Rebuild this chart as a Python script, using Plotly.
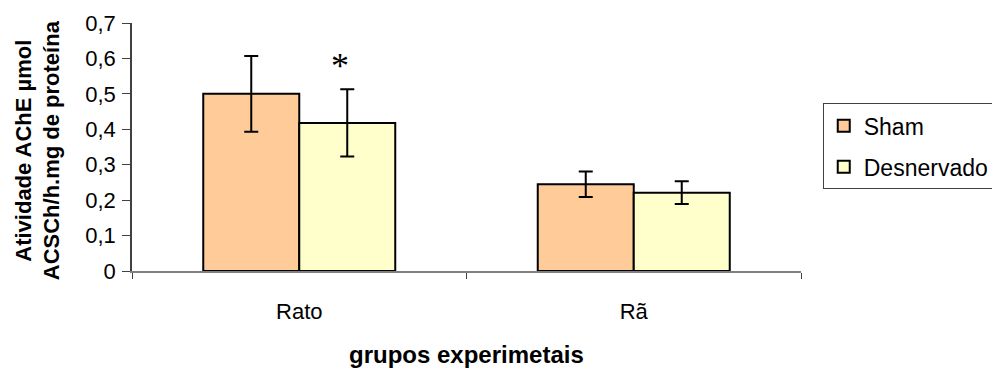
import plotly.graph_objects as go

# Categories and series
grupos = ["Rato", "Rã"]
sham = [0.50, 0.245]
sham_err = [0.107, 0.036]
desnervado = [0.418, 0.221]
desnervado_err = [0.095, 0.032]

y_ticks = [0, 0.1, 0.2, 0.3, 0.4, 0.5, 0.6, 0.7]

FONT = "Liberation Sans, Arial, sans-serif"

fig = go.Figure()
fig.add_trace(go.Bar(
    name="Sham", x=grupos, y=sham,
    marker=dict(color="#FFCC99", line=dict(color="black", width=2)),
    error_y=dict(type="data", array=sham_err, color="black", thickness=2, width=7),
    legendgroup="a",
))
fig.add_trace(go.Bar(
    name="Desnervado", x=grupos, y=desnervado,
    marker=dict(color="#FFFFCC", line=dict(color="black", width=2)),
    error_y=dict(type="data", array=desnervado_err, color="black", thickness=2, width=7),
    legendgroup="b",
))

annotations = [
    # significance marker above the denervated rat bar
    dict(x="Rato", y=desnervado[0] + desnervado_err[0] + 0.065, xref="x", yref="y",
         text="*", showarrow=False, xshift=41,
         font=dict(family="Liberation Serif, Times New Roman, serif", size=36, color="black"),
         yanchor="middle"),
    dict(x=-0.1405, y=0.487, xref="paper", yref="paper",
         text="<b>Atividade AChE µmol<br>ACSCh/h.mg de proteína</b>",
         textangle=-90, showarrow=False, xanchor="center", yanchor="middle",
         font=dict(family=FONT, size=22, color="black")),
    dict(x=0.5, y=-0.335, xref="paper", yref="paper",
         text="<b>grupos experimetais</b>", showarrow=False,
         xanchor="center", yanchor="middle",
         font=dict(family=FONT, size=24, color="black")),
]

fig.update_layout(
    width=992, height=369,
    margin=dict(l=132, r=191, t=23, b=98, pad=0, autoexpand=False),
    paper_bgcolor="white", plot_bgcolor="white",
    barmode="group", bargap=0.426, bargroupgap=0,
    separators=", ",
    font=dict(family=FONT, size=22, color="black"),
    showlegend=True,
    legend=dict(
        x=1.0325, y=0.676, xanchor="left", yanchor="top",
        bordercolor="#404040", borderwidth=1, bgcolor="white",
        font=dict(family=FONT, size=23, color="black"),
        tracegroupgap=8, traceorder="grouped",
    ),
    annotations=annotations,
)

fig.update_xaxes(
    showline=True, linecolor="#808080", linewidth=2,
    ticks="outside", tickson="boundaries", ticklen=6, tickcolor="#404040", tickwidth=1,
    ticklabelstandoff=20, tickfont=dict(size=22),
    showgrid=False, zeroline=False,
)
fig.update_yaxes(
    range=[0, 0.7], tickvals=y_ticks,
    showline=True, linecolor="#404040", linewidth=1.5,
    ticks="outside", ticklen=8, tickcolor="#404040", tickwidth=1,
    ticklabelstandoff=2, tickfont=dict(size=22),
    showgrid=False, zeroline=False,
)

fig.write_html("out.html")
